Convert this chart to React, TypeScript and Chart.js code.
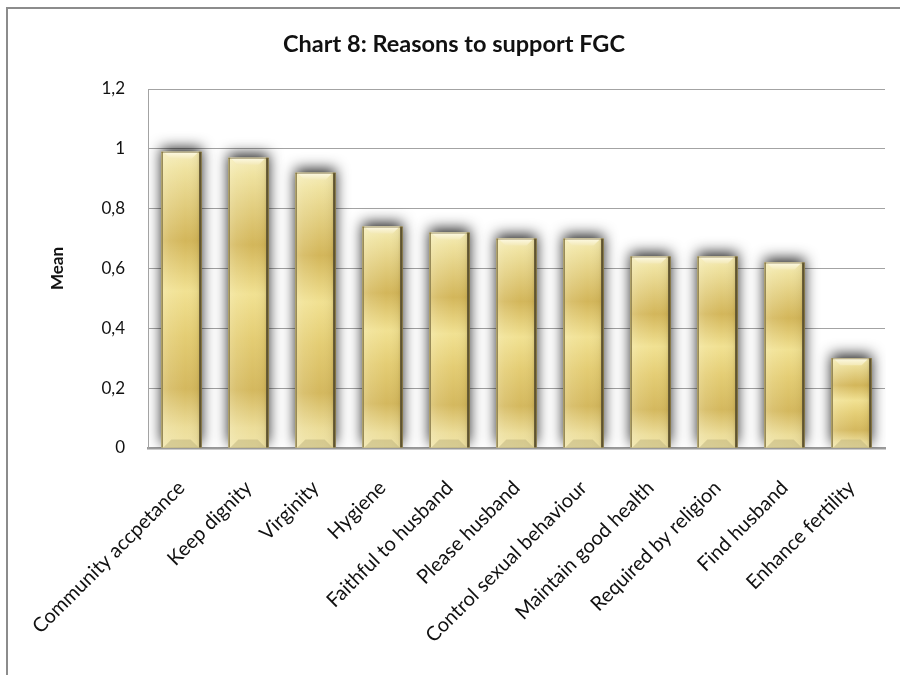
import React, { useEffect, useRef } from 'react';
import { Chart, registerables } from 'chart.js';

Chart.register(...registerables);

const chartTitle = 'Chart 8: Reasons to support FGC';
const yAxisTitle = 'Mean';

const categories = [
  'Community accpetance',
  'Keep dignity',
  'Virginity',
  'Hygiene',
  'Faithful to husband',
  'Please husband',
  'Control sexual behaviour',
  'Maintain good health',
  'Required by religion',
  'Find husband',
  'Enhance fertility',
];

const meanValues = [0.99, 0.97, 0.92, 0.74, 0.72, 0.7, 0.7, 0.64, 0.64, 0.62, 0.3];

const yTickValues = [0, 0.2, 0.4, 0.6, 0.8, 1, 1.2];
const yTickLabels = ['0', '0,2', '0,4', '0,6', '0,8', '1', '1,2'];

const FONT = 'Lato, "Open Sans", sans-serif';

// Vertical gold banding, relative to each bar's own height.
function goldFill(c: any) {
  const chart = c.chart;
  const ys = chart.scales && chart.scales.y;
  if (c.type !== 'data' || !ys || !chart.chartArea) return '#e2c96f';
  const top = ys.getPixelForValue(c.raw);
  const base = ys.getPixelForValue(0);
  const g = chart.ctx.createLinearGradient(0, top, 0, base);
  g.addColorStop(0, '#f6edba');
  g.addColorStop(0.06, '#efe29f');
  g.addColorStop(0.3, '#d3b65a');
  g.addColorStop(0.47, '#f1e192');
  g.addColorStop(0.62, '#e4cd74');
  g.addColorStop(0.8, '#d4b85e');
  g.addColorStop(0.93, '#ecdd99');
  g.addColorStop(1, '#f0e4a8');
  return g;
}

function barRects(chart: any) {
  const meta = chart.getDatasetMeta(0);
  return meta.data.map((el: any) => {
    const p = el.getProps(['x', 'y', 'base', 'width'], true);
    return { left: p.x - p.width / 2, right: p.x + p.width / 2, top: p.y, base: p.base };
  });
}

const frameAndTitle = {
  id: 'frameAndTitle',
  beforeDraw(chart: any) {
    const ctx = chart.ctx;
    ctx.save();
    ctx.fillStyle = '#ffffff';
    ctx.fillRect(0, 0, chart.width, chart.height);
    ctx.strokeStyle = '#8c8c8c';
    ctx.lineWidth = 2;
    ctx.strokeRect(7, 8, chart.width + 20, chart.height + 20);
    ctx.restore();
  },
  afterDraw(chart: any) {
    const ctx = chart.ctx;
    ctx.save();
    ctx.fillStyle = '#111111';
    ctx.font = `bold 23.5px ${FONT}`;
    ctx.textAlign = 'center';
    ctx.textBaseline = 'middle';
    ctx.fillText(chartTitle, 454, 44);
    ctx.restore();
  },
};

const goldBars = {
  id: 'goldBars',
  beforeDatasetsDraw(chart: any) {
    const ctx = chart.ctx;
    const a = chart.chartArea;
    ctx.save();
    ctx.beginPath();
    ctx.rect(a.left + 1, a.top - 40, a.right - a.left, a.bottom - a.top + 40);
    ctx.clip();
    ctx.shadowColor = 'rgba(0,0,0,0.85)';
    ctx.shadowBlur = 14;
    ctx.shadowOffsetY = -4;
    ctx.fillStyle = '#d8c06c';
    barRects(chart).forEach((b: any) => ctx.fillRect(b.left, b.top, b.right - b.left, b.base - b.top));
    ctx.restore();
  },
  afterDatasetsDraw(chart: any) {
    const ctx = chart.ctx;
    ctx.save();
    barRects(chart).forEach((b: any) => {
      const w = b.right - b.left;
      // side shading
      const h = ctx.createLinearGradient(b.left, 0, b.right, 0);
      h.addColorStop(0, 'rgba(255,255,240,0.25)');
      h.addColorStop(0.2, 'rgba(255,255,240,0.12)');
      h.addColorStop(0.6, 'rgba(255,255,240,0)');
      h.addColorStop(0.88, 'rgba(90,70,10,0.06)');
      h.addColorStop(1, 'rgba(90,70,10,0.25)');
      ctx.fillStyle = h;
      ctx.fillRect(b.left, b.top, w, b.base - b.top);

      // top bevel
      const bv = 7;
      const tg = ctx.createLinearGradient(0, b.top, 0, b.top + bv);
      tg.addColorStop(0, '#fdfae6');
      tg.addColorStop(1, '#f3e9b6');
      ctx.fillStyle = tg;
      ctx.beginPath();
      ctx.moveTo(b.left + 2, b.top);
      ctx.lineTo(b.right - 3, b.top);
      ctx.lineTo(b.right - 3 - bv, b.top + bv);
      ctx.lineTo(b.left + 2 + bv, b.top + bv);
      ctx.closePath();
      ctx.fill();

      // bottom bevel
      const bb = 8;
      ctx.fillStyle = 'rgba(185,172,120,0.45)';
      ctx.beginPath();
      ctx.moveTo(b.left + 2, b.base);
      ctx.lineTo(b.right - 3, b.base);
      ctx.lineTo(b.right - 3 - bb, b.base - bb);
      ctx.lineTo(b.left + 2 + bb, b.base - bb);
      ctx.closePath();
      ctx.fill();

      // edges
      ctx.fillStyle = '#8e8150';
      ctx.fillRect(b.left, b.top, 1.5, b.base - b.top);
      ctx.fillStyle = '#5f5430';
      ctx.fillRect(b.right - 2.5, b.top, 2.5, b.base - b.top);
      ctx.fillStyle = 'rgba(120,105,55,0.6)';
      ctx.fillRect(b.left, b.top, w, 1);
    });
    ctx.restore();
  },
};

export default function App() {
  const canvasRef = useRef<HTMLCanvasElement | null>(null);

  useEffect(() => {
    const canvas = canvasRef.current;
    if (!canvas) return;
    const chart = new Chart(canvas, {
      type: 'bar',
      data: {
        labels: categories,
        datasets: [
          {
            label: yAxisTitle,
            data: meanValues,
            backgroundColor: goldFill as any,
            borderWidth: 0,
            barPercentage: 0.6,
            categoryPercentage: 1,
          },
        ],
      },
      options: {
        responsive: false,
        animation: false,
        events: [],
        layout: { padding: { top: 89, right: 15, bottom: 0, left: 0 } },
        plugins: {
          legend: { display: false },
          title: { display: false },
          tooltip: { enabled: false },
        },
        scales: {
          x: {
            offset: true,
            grid: { display: false, drawTicks: false },
            border: { display: true, color: '#9a9a9a', width: 2.5 },
            ticks: {
              autoSkip: false,
              minRotation: 45,
              maxRotation: 45,
              padding: 28,
              color: '#111111',
              font: { family: FONT, size: 20 },
            },
            afterFit: (scale: any) => {
              scale.height = 227;
            },
          },
          y: {
            min: 0,
            max: 1.2,
            afterBuildTicks: (scale: any) => {
              scale.ticks = yTickValues.map((v) => ({ value: v }));
            },
            ticks: {
              padding: 23,
              color: '#111111',
              font: { family: FONT, size: 17 },
              callback: (value: any) => {
                const i = yTickValues.findIndex((v) => Math.abs(v - Number(value)) < 1e-9);
                return i >= 0 ? yTickLabels[i] : '';
              },
            },
            grid: { color: '#a3a3a3', lineWidth: 1, drawTicks: false },
            border: { display: true, color: '#a3a3a3', width: 1 },
            title: {
              display: true,
              text: yAxisTitle,
              color: '#111111',
              font: { family: FONT, size: 17, weight: 'bold' },
              padding: { top: 47, bottom: 0 },
            },
            afterFit: (scale: any) => {
              scale.width = 148;
            },
          },
        },
      },
      plugins: [frameAndTitle, goldBars],
    });
    return () => chart.destroy();
  }, []);

  return (
    <div style={{ position: 'fixed', left: 0, top: 0, width: 900, height: 675, background: '#fff' }}>
      <canvas ref={canvasRef} width={900} height={675} style={{ display: 'block', width: 900, height: 675 }} />
    </div>
  );
}
